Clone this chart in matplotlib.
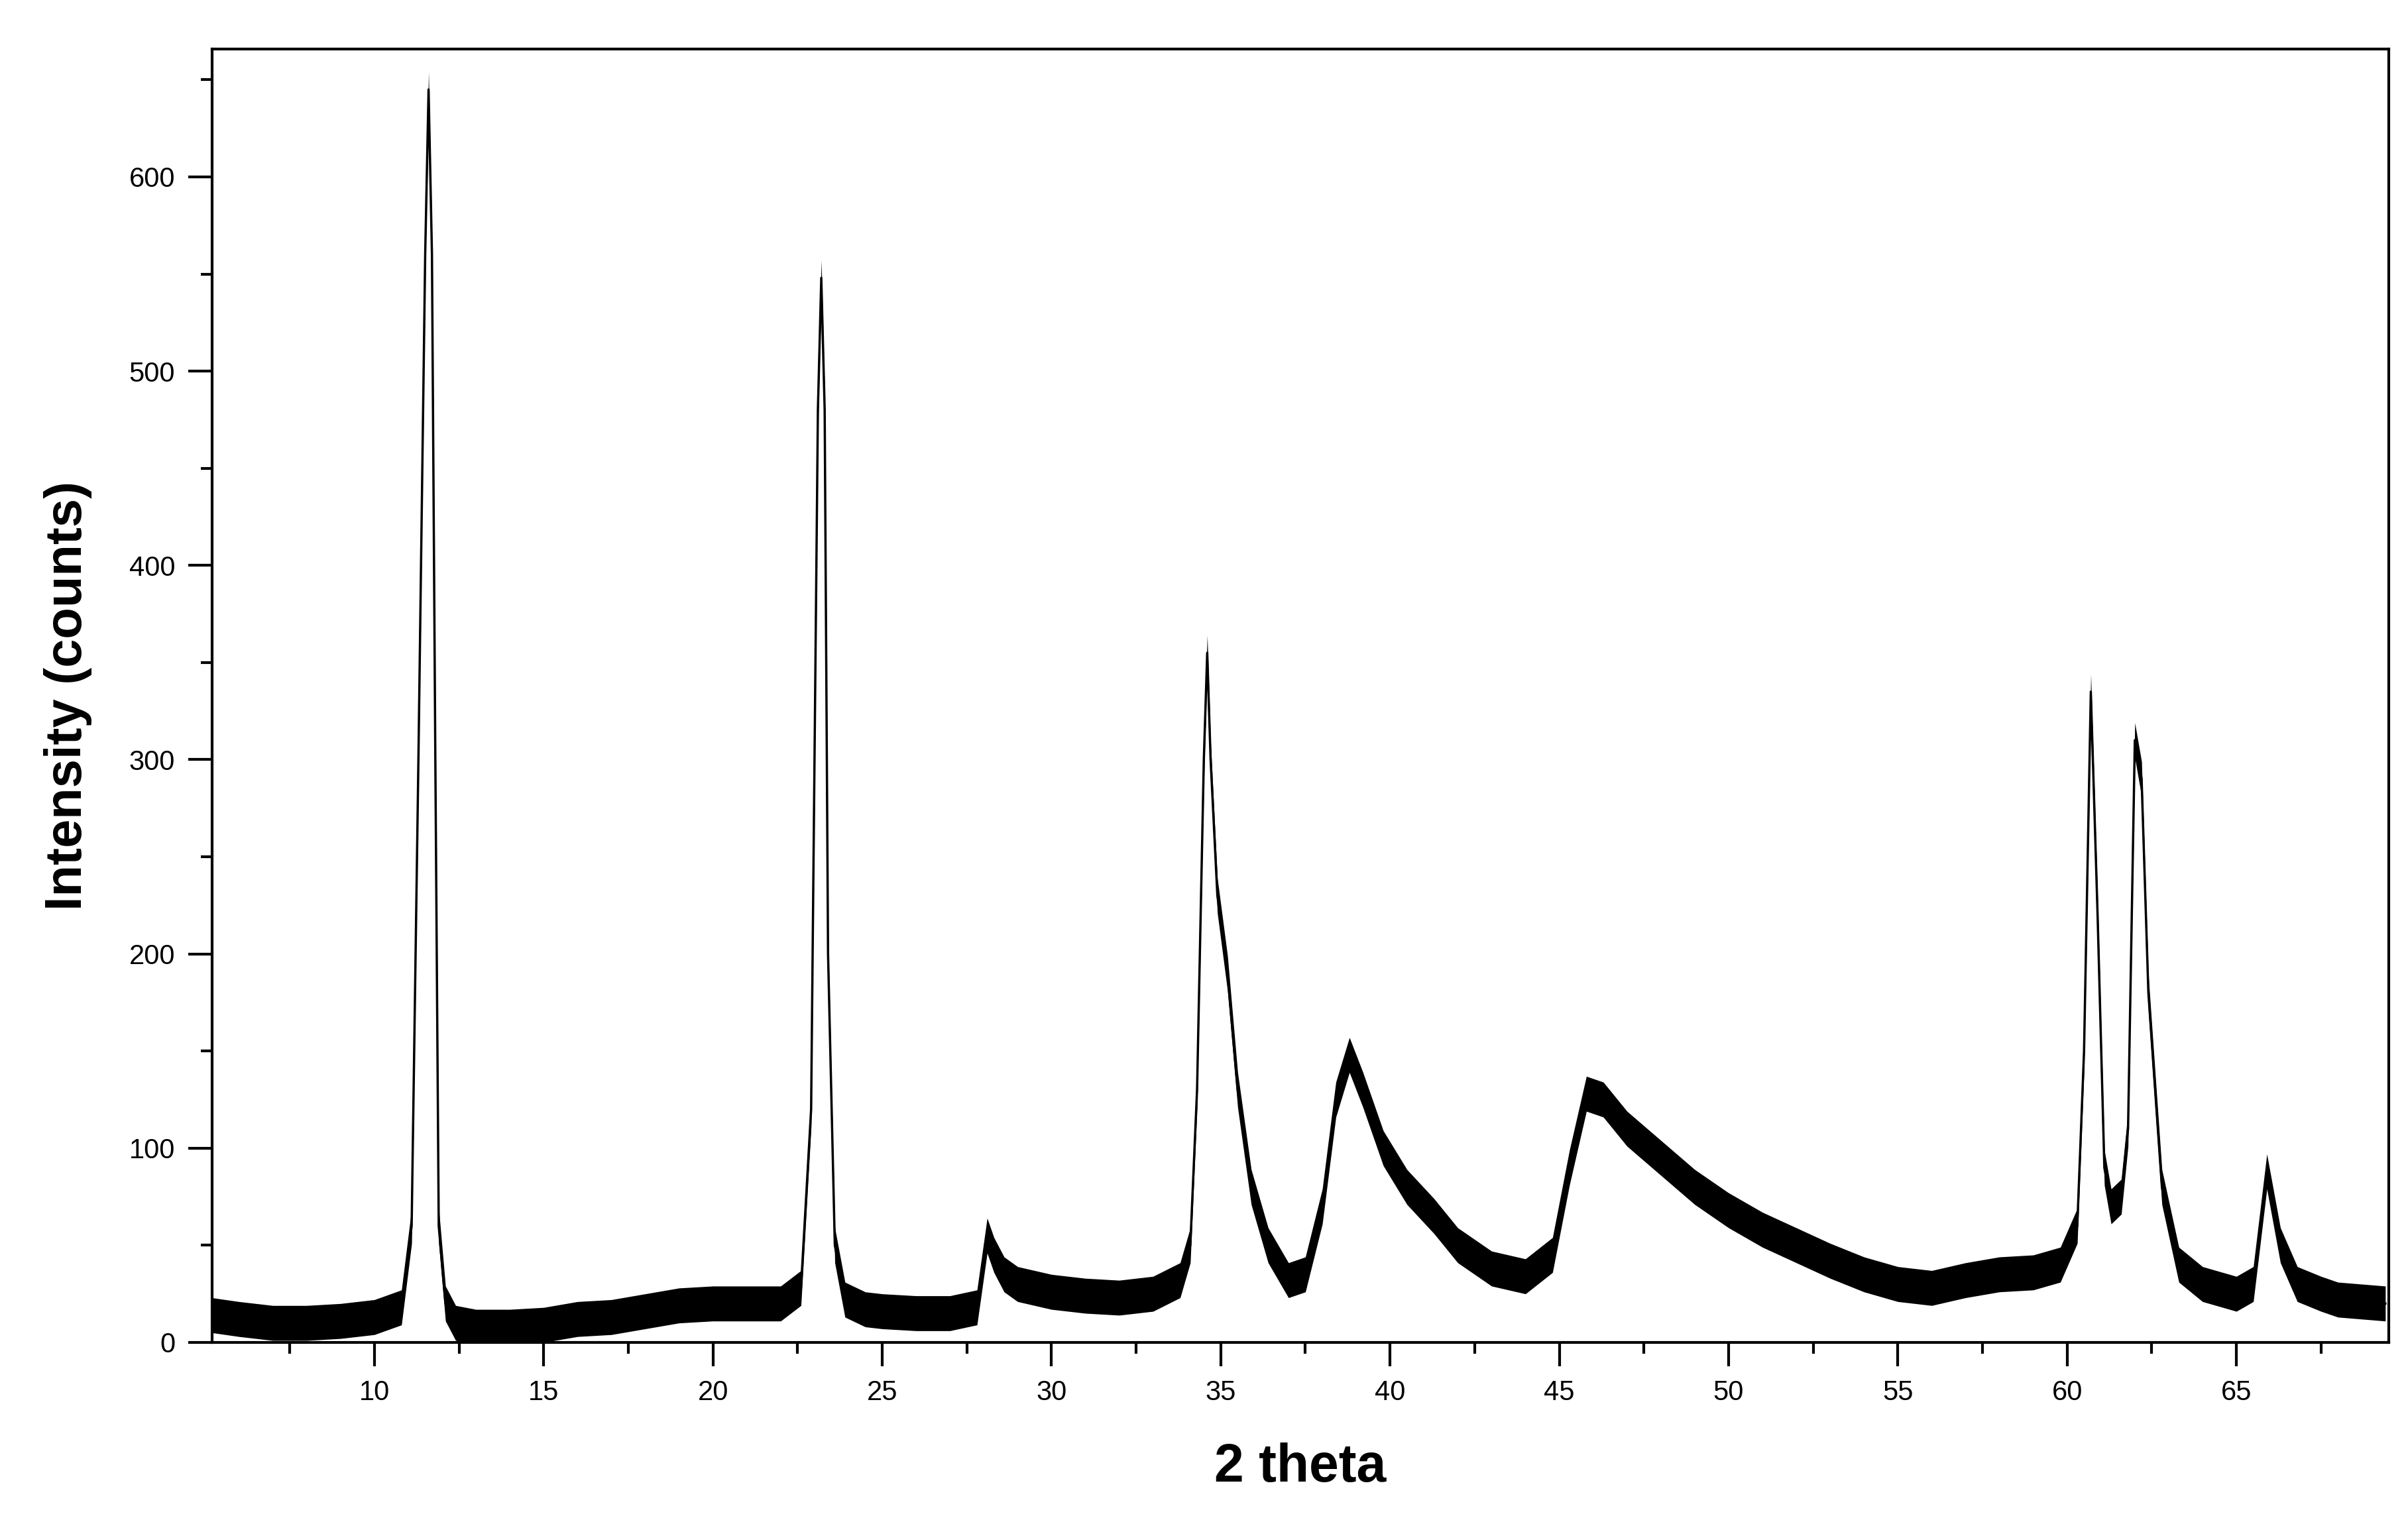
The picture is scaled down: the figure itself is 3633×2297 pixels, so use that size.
import matplotlib
matplotlib.use("Agg")
import matplotlib.pyplot as plt
import numpy as np

theta = [5.2,6,7,8,9,10,10.8,11.1,11.3,11.5,11.6,11.7,11.8,11.9,12.1,12.4,
         13,14,15,16,17,18,19,20,21,22,22.6,
         22.9,23.1,23.2,23.3,23.4,23.6,23.9,24.5,
         25,26,27,27.8,28.1,28.3,28.6,29,30,31,32,33,33.8,
         34.1,34.3,34.5,34.6,34.7,34.9,35.2,35.5,35.9,36.4,37,37.5,
         38,38.4,38.8,39.2,39.8,40.5,41.3,42,43,44,
         44.8,45.3,45.8,46.3,47,48,49,50,51,52,53,54,55,56,57,58,59,59.8,
         60.3,60.5,60.7,60.9,61.1,61.3,61.6,61.8,62.0,62.2,62.4,62.8,63.3,64,65,65.5,65.9,66.3,66.8,67.5,68,69.4]
intensity = [14,12,10,10,11,13,18,60,300,560,645,560,300,60,20,10,
             8,8,9,12,13,16,19,20,20,20,28,
             120,480,548,480,200,50,22,17,
             16,15,15,18,55,45,35,30,26,24,23,25,32,
             50,130,300,355,300,230,190,130,80,50,32,35,
             70,125,148,130,100,80,65,50,38,34,
             45,90,128,125,110,95,80,68,58,50,42,35,30,28,32,35,36,40,
             60,150,335,220,90,70,75,110,310,290,180,80,40,30,25,30,88,50,30,25,22,20]
spread = 9

xticks = [10,15,20,25,30,35,40,45,50,55,60,65]
yticks = [0,100,200,300,400,500,600]

fig = plt.figure(figsize=(36.33,22.97), dpi=100)
ax = fig.add_axes([0.088,0.118,0.904,0.85])
x = np.array(theta); y = np.array(intensity, float)
ax.fill_between(x, y-spread, y+spread, color='black', lw=0)
ax.plot(x, y, color='black', lw=2.5)
ax.set_xlim(5.2,69.5); ax.set_ylim(0,666)
ax.set_xticks(xticks); ax.set_yticks(yticks)
ax.set_xticks(np.arange(7.5,70,5), minor=True)
ax.set_yticks(np.arange(50,666,100), minor=True)
for s in ax.spines.values(): s.set_linewidth(3)
ax.tick_params(which='major', length=26, width=3, labelsize=30, pad=14)
ax.tick_params(which='minor', length=12, width=3)
for t in ax.get_xticklabels()+ax.get_yticklabels(): t.set_family('Liberation Sans')
ax.set_xlabel('2 theta', fontsize=58, fontweight='bold', family='Liberation Sans', labelpad=40)
ax.set_ylabel('Intensity (counts)', fontsize=56, fontweight='bold', family='Liberation Sans', labelpad=40)
fig.savefig('out.png', dpi=100)
